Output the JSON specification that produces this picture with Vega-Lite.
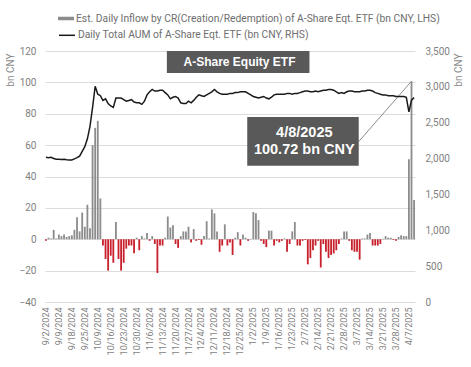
{
  "$schema": "https://vega.github.io/schema/vega-lite/v6.json",
  "width": 370,
  "height": 251,
  "autosize": {"type": "none"},
  "padding": {"left": 45, "top": 51, "right": 56, "bottom": 65},
  "background": "white",
  "config": {
    "view": {"stroke": null},
    "font": "Roboto",
    "axis": {"labelFont": "Roboto", "titleFont": "Roboto"},
    "legend": {"labelFont": "Roboto"}
  },
  "data": {"values": [
    {"d":"9/2/2024","v":-1,"a":2017},{"d":"9/3/2024","v":1,"a":2013},{"d":"9/4/2024","v":0.5,"a":2019},{"d":"9/5/2024","v":6,"a":2002},{"d":"9/6/2024","v":0.5,"a":1991},
    {"d":"9/9/2024","v":3,"a":1991},{"d":"9/10/2024","v":2,"a":1986},{"d":"9/11/2024","v":3,"a":1991},{"d":"9/12/2024","v":1.5,"a":1984},{"d":"9/13/2024","v":2,"a":1980},
    {"d":"9/18/2024","v":2.5,"a":1980},{"d":"9/19/2024","v":6,"a":1995},{"d":"9/20/2024","v":14,"a":2013},{"d":"9/23/2024","v":5,"a":2034},{"d":"9/24/2024","v":17,"a":2100},
    {"d":"9/25/2024","v":8,"a":2166},{"d":"9/26/2024","v":22,"a":2275},{"d":"9/27/2024","v":7,"a":2450},{"d":"9/30/2024","v":60,"a":2713},{"d":"10/8/2024","v":71,"a":3008},
    {"d":"10/9/2024","v":75.5,"a":2898},{"d":"10/10/2024","v":26,"a":2877},{"d":"10/11/2024","v":-4,"a":2811},{"d":"10/14/2024","v":-12.6,"a":2833},{"d":"10/15/2024","v":-20,"a":2767},
    {"d":"10/16/2024","v":-10.5,"a":2734},{"d":"10/17/2024","v":-15,"a":2713},{"d":"10/18/2024","v":11,"a":2844},{"d":"10/21/2024","v":-12.6,"a":2844},{"d":"10/22/2024","v":-20,"a":2844},
    {"d":"10/23/2024","v":-15,"a":2822},{"d":"10/24/2024","v":-6,"a":2800},{"d":"10/25/2024","v":-4,"a":2811},{"d":"10/28/2024","v":-4,"a":2822},{"d":"10/29/2024","v":-9,"a":2789},
    {"d":"10/30/2024","v":1,"a":2778},{"d":"10/31/2024","v":-7,"a":2778},{"d":"11/1/2024","v":2,"a":2756},{"d":"11/4/2024","v":0.5,"a":2800},{"d":"11/5/2024","v":4,"a":2888},
    {"d":"11/6/2024","v":-1,"a":2931},{"d":"11/7/2024","v":2,"a":2964},{"d":"11/8/2024","v":-3,"a":2942},{"d":"11/11/2024","v":-21.5,"a":2942},{"d":"11/12/2024","v":-4,"a":2953},
    {"d":"11/13/2024","v":-4,"a":2953},{"d":"11/14/2024","v":1,"a":2920},{"d":"11/15/2024","v":14.5,"a":2888},{"d":"11/18/2024","v":7.5,"a":2833},{"d":"11/19/2024","v":9,"a":2855},
    {"d":"11/20/2024","v":-3,"a":2866},{"d":"11/21/2024","v":-5.5,"a":2844},{"d":"11/22/2024","v":2,"a":2778},{"d":"11/25/2024","v":5,"a":2767},{"d":"11/26/2024","v":5,"a":2767},
    {"d":"11/27/2024","v":8,"a":2800},{"d":"11/28/2024","v":-2,"a":2778},{"d":"11/29/2024","v":6.5,"a":2811},{"d":"12/2/2024","v":-1,"a":2855},{"d":"12/3/2024","v":-0.5,"a":2888},
    {"d":"12/4/2024","v":-3.5,"a":2877},{"d":"12/5/2024","v":2,"a":2866},{"d":"12/6/2024","v":11.5,"a":2888},{"d":"12/9/2024","v":0.5,"a":2909},{"d":"12/10/2024","v":19,"a":2931},
    {"d":"12/11/2024","v":16.5,"a":2964},{"d":"12/12/2024","v":5,"a":2931},{"d":"12/13/2024","v":-8,"a":2909},{"d":"12/16/2024","v":-4,"a":2898},{"d":"12/17/2024","v":9.5,"a":2898},
    {"d":"12/18/2024","v":-4,"a":2898},{"d":"12/19/2024","v":-2,"a":2909},{"d":"12/20/2024","v":-10,"a":2909},{"d":"12/23/2024","v":1,"a":2920},{"d":"12/24/2024","v":4.5,"a":2920},
    {"d":"12/25/2024","v":-4,"a":2931},{"d":"12/26/2024","v":3,"a":2931},{"d":"12/27/2024","v":1,"a":2931},{"d":"12/30/2024","v":-1,"a":2909},{"d":"12/31/2024","v":0.3,"a":2888},
    {"d":"1/2/2025","v":17.3,"a":2866},{"d":"1/3/2025","v":16.5,"a":2855},{"d":"1/6/2025","v":12.2,"a":2844},{"d":"1/7/2025","v":-1,"a":2855},{"d":"1/8/2025","v":-3,"a":2866},
    {"d":"1/9/2025","v":-5,"a":2844},{"d":"1/10/2025","v":5.5,"a":2833},{"d":"1/13/2025","v":5.5,"a":2855},{"d":"1/14/2025","v":-4,"a":2888},{"d":"1/15/2025","v":-1,"a":2898},
    {"d":"1/16/2025","v":-2,"a":2898},{"d":"1/17/2025","v":-1,"a":2898},{"d":"1/20/2025","v":0.5,"a":2898},{"d":"1/21/2025","v":-8,"a":2909},{"d":"1/22/2025","v":-3,"a":2909},
    {"d":"1/23/2025","v":5,"a":2898},{"d":"1/24/2025","v":11,"a":2909},{"d":"1/27/2025","v":-4,"a":2909},{"d":"2/5/2025","v":-4,"a":2920},{"d":"2/6/2025","v":-1,"a":2931},
    {"d":"2/7/2025","v":-0.5,"a":2942},{"d":"2/10/2025","v":-16,"a":2942},{"d":"2/11/2025","v":-12,"a":2931},{"d":"2/12/2025","v":-7,"a":2931},{"d":"2/13/2025","v":-4,"a":2942},
    {"d":"2/14/2025","v":-1,"a":2931},{"d":"2/17/2025","v":-18,"a":2942},{"d":"2/18/2025","v":-3,"a":2953},{"d":"2/19/2025","v":-8,"a":2953},{"d":"2/20/2025","v":-12,"a":2964},
    {"d":"2/21/2025","v":-10,"a":2964},{"d":"2/24/2025","v":-9,"a":2953},{"d":"2/25/2025","v":-7,"a":2931},{"d":"2/26/2025","v":-3,"a":2909},{"d":"2/27/2025","v":0.5,"a":2920},
    {"d":"2/28/2025","v":5,"a":2909},{"d":"3/3/2025","v":5,"a":2931},{"d":"3/4/2025","v":-1,"a":2942},{"d":"3/5/2025","v":-7,"a":2942},{"d":"3/6/2025","v":-8,"a":2931},
    {"d":"3/7/2025","v":-8,"a":2931},{"d":"3/10/2025","v":-13,"a":2931},{"d":"3/11/2025","v":0.5,"a":2942},{"d":"3/12/2025","v":0.5,"a":2942},{"d":"3/13/2025","v":3,"a":2953},
    {"d":"3/14/2025","v":4,"a":2953},{"d":"3/17/2025","v":-4,"a":2942},{"d":"3/18/2025","v":-4,"a":2920},{"d":"3/19/2025","v":-4,"a":2909},{"d":"3/20/2025","v":-3,"a":2898},
    {"d":"3/21/2025","v":0.3,"a":2888},{"d":"3/24/2025","v":2,"a":2888},{"d":"3/25/2025","v":1,"a":2877},{"d":"3/26/2025","v":1,"a":2877},{"d":"3/27/2025","v":-0.5,"a":2877},
    {"d":"3/28/2025","v":-1,"a":2866},{"d":"3/31/2025","v":1.5,"a":2866},{"d":"4/1/2025","v":2.5,"a":2866},{"d":"4/2/2025","v":2,"a":2866},{"d":"4/3/2025","v":2,"a":2855},
    {"d":"4/7/2025","v":51,"a":2650},{"d":"4/8/2025","v":100.72,"a":2815},{"d":"4/9/2025","v":25,"a":2850}
  ]},
  "layer": [
    {
      "encoding": {
        "x": {
          "field": "d", "type": "ordinal", "sort": null,
          "scale": {
            "paddingInner": 0.3, "paddingOuter": 0,
            "domain": ["9/2/2024","9/3/2024","9/4/2024","9/5/2024","9/6/2024","9/9/2024","9/10/2024","9/11/2024","9/12/2024","9/13/2024","9/18/2024","9/19/2024","9/20/2024","9/23/2024","9/24/2024","9/25/2024","9/26/2024","9/27/2024","9/30/2024","10/8/2024","10/9/2024","10/10/2024","10/11/2024","10/14/2024","10/15/2024","10/16/2024","10/17/2024","10/18/2024","10/21/2024","10/22/2024","10/23/2024","10/24/2024","10/25/2024","10/28/2024","10/29/2024","10/30/2024","10/31/2024","11/1/2024","11/4/2024","11/5/2024","11/6/2024","11/7/2024","11/8/2024","11/11/2024","11/12/2024","11/13/2024","11/14/2024","11/15/2024","11/18/2024","11/19/2024","11/20/2024","11/21/2024","11/22/2024","11/25/2024","11/26/2024","11/27/2024","11/28/2024","11/29/2024","12/2/2024","12/3/2024","12/4/2024","12/5/2024","12/6/2024","12/9/2024","12/10/2024","12/11/2024","12/12/2024","12/13/2024","12/16/2024","12/17/2024","12/18/2024","12/19/2024","12/20/2024","12/23/2024","12/24/2024","12/25/2024","12/26/2024","12/27/2024","12/30/2024","12/31/2024","1/2/2025","1/3/2025","1/6/2025","1/7/2025","1/8/2025","1/9/2025","1/10/2025","1/13/2025","1/14/2025","1/15/2025","1/16/2025","1/17/2025","1/20/2025","1/21/2025","1/22/2025","1/23/2025","1/24/2025","1/27/2025","2/5/2025","2/6/2025","2/7/2025","2/10/2025","2/11/2025","2/12/2025","2/13/2025","2/14/2025","2/17/2025","2/18/2025","2/19/2025","2/20/2025","2/21/2025","2/24/2025","2/25/2025","2/26/2025","2/27/2025","2/28/2025","3/3/2025","3/4/2025","3/5/2025","3/6/2025","3/7/2025","3/10/2025","3/11/2025","3/12/2025","3/13/2025","3/14/2025","3/17/2025","3/18/2025","3/19/2025","3/20/2025","3/21/2025","3/24/2025","3/25/2025","3/26/2025","3/27/2025","3/28/2025","3/31/2025","4/1/2025","4/2/2025","4/3/2025","4/7/2025","4/8/2025","4/9/2025"]
          },
          "axis": {
            "title": null, "labelAngle": -90, "ticks": false, "domain": false, "grid": false,
            "labelFontSize": 9, "labelColor": "#7f7f7f", "labelPadding": 5, "labelOverlap": false,
            "values": ["9/2/2024","9/9/2024","9/18/2024","9/25/2024","10/9/2024","10/16/2024","10/23/2024","10/30/2024","11/6/2024","11/13/2024","11/20/2024","11/27/2024","12/4/2024","12/11/2024","12/18/2024","12/25/2024","1/2/2025","1/9/2025","1/16/2025","1/23/2025","2/7/2025","2/14/2025","2/21/2025","2/28/2025","3/7/2025","3/14/2025","3/21/2025","3/28/2025","4/7/2025"]
          }
        },
        "y": {
          "field": "v", "type": "quantitative",
          "scale": {"domain": [-40, 120], "nice": false, "zero": false},
          "axis": {
            "values": [-40, -20, 0, 20, 40, 60, 80, 100, 120],
            "labelOverlap": false,
            "grid": true, "gridColor": "#dcdcdc", "gridWidth": 1,
            "domain": false, "ticks": false, "labelPadding": 9,
            "labelColor": "#7f7f7f", "labelFontSize": 10,
            "title": "bn CNY", "titleFontWeight": "normal", "titleColor": "#8c8c8c", "titleFontSize": 10,
            "titleAngle": 270, "titleAlign": "right", "titleBaseline": "middle", "titleX": -35, "titleY": 2
          }
        }
      },
      "layer": [
        {
          "mark": {"type": "bar"},
          "encoding": {
            "fill": {
              "datum": "Est. Daily Inflow by CR(Creation/Redemption) of A-Share Eqt. ETF (bn CNY, LHS)",
              "scale": {"range": ["#8c8c8c"]},
              "condition": {"test": "datum.v < 0", "value": "#c8202c"},
              "legend": {
                "orient": "none", "legendX": 13, "legendY": -40.5, "title": null, "padding": 0,
                "symbolType": "M-1,-0.22H1V0.22H-1Z", "symbolSize": 256, "symbolStrokeWidth": 0,
                "labelOffset": 2, "labelFontSize": 10.3, "labelColor": "#6e6e6e", "labelLimit": 400
              }
            }
          }
        },
        {
          "data": {"values": [{"x1": "11/15/2024", "x2": "2/11/2025", "y1": 120, "y2": 106, "tx": "12/25/2024", "ty": 112.8, "t": "A-Share Equity ETF"}]},
          "layer": [
            {
              "mark": {"type": "rect", "fill": "#595959"},
              "encoding": {
                "x": {"field": "x1", "type": "ordinal", "bandPosition": 0},
                "x2": {"field": "x2", "bandPosition": 0},
                "y": {"field": "y1", "type": "quantitative"},
                "y2": {"field": "y2"}
              }
            },
            {
              "mark": {"type": "text", "color": "white", "font": "Liberation Sans", "fontWeight": "bold", "fontSize": 12, "align": "center", "baseline": "middle"},
              "encoding": {
                "x": {"field": "tx", "type": "ordinal", "bandPosition": 0},
                "y": {"field": "ty", "type": "quantitative"},
                "text": {"field": "t"}
              }
            }
          ]
        },
        {
          "data": {"values": [{"x1": "12/30/2024", "x2": "3/10/2025", "y1": 77.9, "y2": 46.9, "lx": "4/8/2025", "ly1": 62.3, "ly2": 100.72, "tx": "2/7/2025", "ty1": 68, "ty2": 57, "t1": "4/8/2025", "t2": "100.72 bn CNY"}]},
          "layer": [
            {
              "mark": {"type": "rule", "color": "#8c8c8c", "strokeWidth": 1},
              "encoding": {
                "x": {"field": "x2", "type": "ordinal", "bandPosition": 0},
                "x2": {"field": "lx", "bandPosition": 0.5},
                "y": {"field": "ly1", "type": "quantitative"},
                "y2": {"field": "ly2"}
              }
            },
            {
              "mark": {"type": "rect", "fill": "#595959"},
              "encoding": {
                "x": {"field": "x1", "type": "ordinal", "bandPosition": 0},
                "x2": {"field": "x2", "bandPosition": 0},
                "y": {"field": "y1", "type": "quantitative"},
                "y2": {"field": "y2"}
              }
            },
            {
              "mark": {"type": "text", "color": "white", "font": "Liberation Sans", "fontWeight": "bold", "fontSize": 14.5, "align": "center", "baseline": "middle"},
              "encoding": {
                "x": {"field": "tx", "type": "ordinal", "bandPosition": 0},
                "y": {"field": "ty1", "type": "quantitative"},
                "text": {"field": "t1"}
              }
            },
            {
              "mark": {"type": "text", "color": "white", "font": "Liberation Sans", "fontWeight": "bold", "fontSize": 14.5, "align": "center", "baseline": "middle"},
              "encoding": {
                "x": {"field": "tx", "type": "ordinal", "bandPosition": 0},
                "y": {"field": "ty2", "type": "quantitative"},
                "text": {"field": "t2"}
              }
            }
          ]
        }
      ]
    },
    {
      "mark": {"type": "line", "strokeWidth": 1.5},
      "encoding": {
        "x": {"field": "d", "type": "ordinal", "sort": null},
        "y": {
          "field": "a", "type": "quantitative",
          "scale": {"domain": [0, 3500], "nice": false},
          "axis": {
            "orient": "right",
            "values": [0, 500, 1000, 1500, 2000, 2500, 3000, 3500],
            "labelExpr": "format(datum.value, ',')",
            "labelOverlap": false,
            "grid": false, "domain": false, "ticks": false, "labelPadding": 10,
            "labelColor": "#7f7f7f", "labelFontSize": 10,
            "title": "bn CNY", "titleFontWeight": "normal", "titleColor": "#8c8c8c", "titleFontSize": 10,
            "titleAngle": 270, "titleAlign": "right", "titleBaseline": "middle", "titleX": 43, "titleY": 2
          }
        },
        "stroke": {
          "datum": "Daily Total AUM of A-Share Eqt. ETF (bn CNY, RHS)",
          "scale": {"range": ["#1a1a1a"]},
          "legend": {
            "orient": "none", "legendX": 13, "legendY": -24.7, "title": null, "padding": 0,
            "symbolType": "stroke", "symbolSize": 256, "symbolStrokeWidth": 1.5,
            "labelOffset": 2, "labelFontSize": 10.3, "labelColor": "#6e6e6e", "labelLimit": 400
          }
        }
      }
    }
  ],
  "resolve": {"scale": {"y": "independent"}}
}
